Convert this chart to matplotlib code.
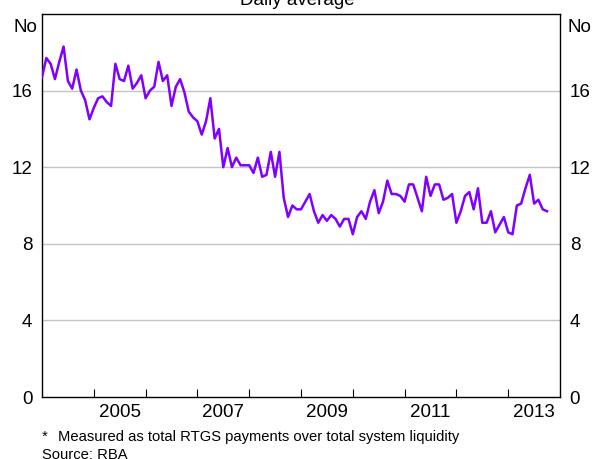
import numpy as np
import matplotlib
matplotlib.use("Agg")
import matplotlib.pyplot as plt

plt.rcParams["font.family"] = ["Liberation Sans", "DejaVu Sans"]

# Monthly series, Jan 2004 - Oct 2013
start_year = 2004
values = [
    16.7, 17.7, 17.4, 16.6, 17.5, 18.3, 16.5, 16.1, 17.1, 16.0, 15.5, 14.5,
    15.1, 15.6, 15.7, 15.4, 15.2, 17.4, 16.6, 16.5, 17.3, 16.1, 16.4, 16.8,
    15.6, 16.0, 16.2, 17.5, 16.5, 16.8, 15.2, 16.2, 16.6, 15.9, 14.9, 14.6,
    14.4, 13.7, 14.4, 15.6, 13.5, 14.0, 12.0, 13.0, 12.0, 12.5, 12.1, 12.1,
    12.1, 11.7, 12.5, 11.5, 11.6, 12.8, 11.5, 12.8, 10.4, 9.4, 10.0, 9.8,
    9.8, 10.2, 10.6, 9.7, 9.1, 9.5, 9.2, 9.5, 9.3, 8.9, 9.3, 9.3,
    8.5, 9.4, 9.7, 9.3, 10.2, 10.8, 9.6, 10.2, 11.3, 10.6, 10.6, 10.5,
    10.2, 11.1, 11.1, 10.4, 9.7, 11.5, 10.5, 11.1, 11.1, 10.3, 10.4, 10.6,
    9.1, 9.7, 10.5, 10.7, 9.8, 10.9, 9.1, 9.1, 9.7, 8.6, 9.0, 9.4,
    8.6, 8.5, 10.0, 10.1, 10.9, 11.6, 10.1, 10.3, 9.8, 9.7,
]
y_ticks = [0, 4, 8, 12, 16]
year_ticks = list(range(2005, 2014))
year_labels = ["2005", "2007", "2009", "2011", "2013"]

dates = start_year + np.arange(len(values)) / 12.0

fig = plt.figure(figsize=(5.94, 4.59), dpi=100)
ax = fig.add_axes([42 / 594, 1 - 397 / 459, (560 - 42) / 594, (397 - 14) / 459])

for y in y_ticks[1:]:
    ax.axhline(y, color="#c4c4c4", lw=1.0, zorder=1)

ax.plot(dates, values, color="#8000ff", lw=1.8, zorder=3)

ax.set_xlim(2004, 2014)
ax.set_ylim(0, 20)

ax.set_yticks(y_ticks)
ax.set_yticklabels([str(v) for v in y_ticks])
ax.tick_params(axis="y", length=0, labelsize=13.5, pad=7,
               labelleft=True, labelright=True)

ax.set_xticks(year_ticks)
ax.set_xticklabels([])
ax.set_xticks([int(l) + 0.5 for l in year_labels], minor=True)
ax.set_xticklabels(year_labels, minor=True)
ax.tick_params(axis="x", which="major", direction="in", length=6,
               width=0.8, color="black")
ax.tick_params(axis="x", which="minor", length=0, labelsize=13.5, pad=5)

for side in ["left", "right", "top", "bottom"]:
    ax.spines[side].set_color("black")
    ax.spines[side].set_linewidth(1.0)

fig.text(25 / 594, 1 - 28 / 459, "No", fontsize=13.5, ha="center", va="center")
fig.text(579 / 594, 1 - 28 / 459, "No", fontsize=13.5, ha="center", va="center")

fig.text(0.5, 1 - 5 / 459, "Daily average", fontsize=13.5,
         ha="center", va="baseline")

fig.text(42 / 594, 1 - 437 / 459, "*", fontsize=10.6, ha="left", va="center")
fig.text(58 / 594, 1 - 437 / 459,
         "Measured as total RTGS payments over total system liquidity",
         fontsize=10.6, ha="left", va="center")
fig.text(42 / 594, 1 - 455 / 459, "Source: RBA", fontsize=10.6,
         ha="left", va="center")

fig.savefig("out.png", dpi=100)
